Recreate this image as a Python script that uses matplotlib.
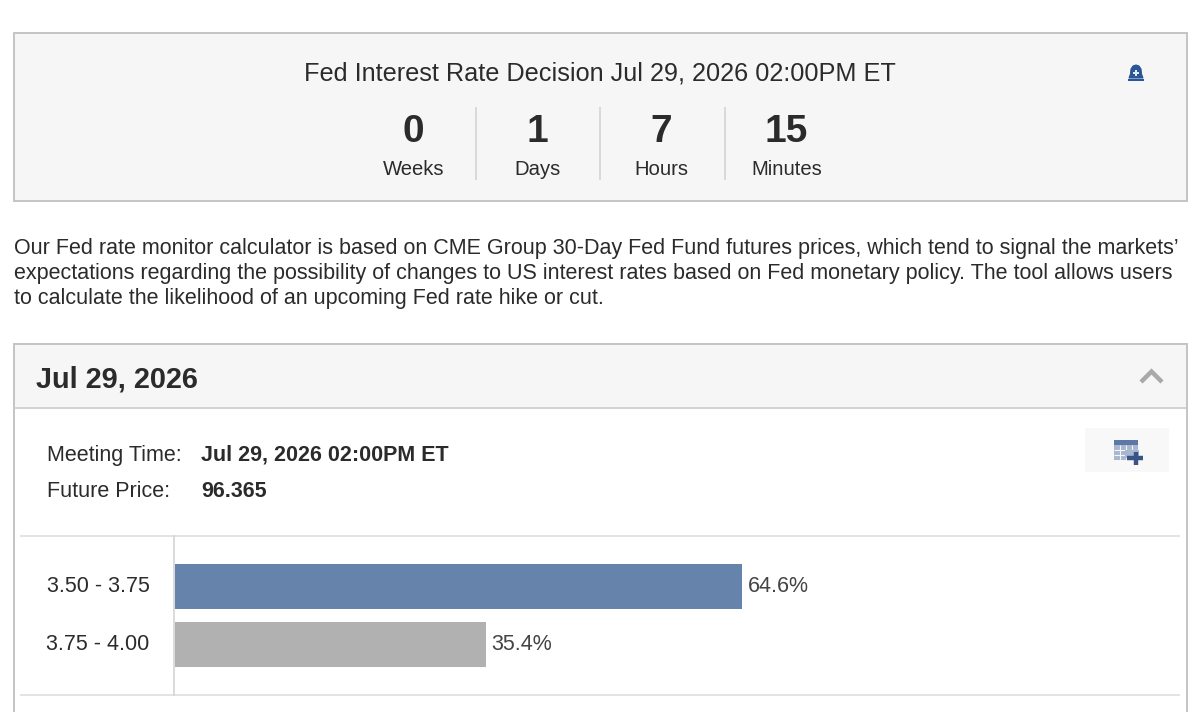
import matplotlib
matplotlib.use("Agg")
import matplotlib.pyplot as plt
from matplotlib.patches import Rectangle, Polygon
from matplotlib.transforms import ScaledTranslation

plt.rcParams["font.family"] = ["Liberation Sans", "DejaVu Sans"]

W, H = 1200, 712

headline = "Fed Interest Rate Decision Jul 29, 2026 02:00PM ET"
countdown_values = ["0", "1", "7", "15"]
countdown_units = ["Weeks", "Days", "Hours", "Minutes"]
intro_lines = [
    "Our Fed rate monitor calculator is based on CME Group 30-Day Fed Fund futures prices, which tend to signal the markets’",
    "expectations regarding the possibility of changes to US interest rates based on Fed monetary policy. The tool allows users",
    "to calculate the likelihood of an upcoming Fed rate hike or cut.",
]
panel_title = "Jul 29, 2026"
meeting_time = "Jul 29, 2026 02:00PM ET"
future_price = "96.365"
rate_ranges = ["3.50 - 3.75", "3.75 - 4.00"]
probabilities = [64.6, 35.4]
bar_colors = ["#6583ab", "#b1b1b1"]

TEXT = "#2b2b2b"
BORDER = "#c4c4c4"
RULE = "#dedede"
PANEL_BG = "#f6f6f6"

fig = plt.figure(figsize=(W / 100, H / 100), dpi=100, facecolor="white")

# Page layer addressed in pixels, origin at the top left
page = fig.add_axes([0, 0, 1, 1])
page.set_xlim(0, W)
page.set_ylim(H, 0)
page.axis("off")


def box(x0, y0, x1, y1, face="none", edge=BORDER, lw=1.4, z=1):
    page.add_patch(Rectangle((x0, y0), x1 - x0, y1 - y0, facecolor=face,
                             edgecolor=edge, linewidth=lw, zorder=z))


def rule(x0, y0, x1, y1, color=RULE, lw=1.2, z=2):
    page.plot([x0, x1], [y0, y1], color=color, lw=lw, zorder=z,
              solid_capstyle="butt")


def label(x, y, s, size=15.5, weight="normal", ha="left", color=TEXT):
    page.text(x, y, s, fontsize=size, fontweight=weight, ha=ha, va="baseline",
              color=color, zorder=5)


# Countdown card
box(13.5, 32.5, 1187, 201, face=PANEL_BG)
label(600, 80, headline, size=18.2, ha="center")
for cx, value, unit in zip([413.5, 537.5, 661.5, 786.5], countdown_values, countdown_units):
    label(cx, 142, value, size=28, weight="bold", ha="center")
    label(cx, 175, unit, size=14.6, ha="center")
for sx in [475.5, 600, 724.5]:
    rule(sx, 107, sx, 180, color="#d4d4d4")

# Alert bell
bell = "#2a5597"
page.add_patch(Polygon([(1129, 78), (1130.5, 74), (1131, 69), (1133, 66), (1136, 65),
                        (1139, 66), (1141, 69), (1141.5, 74), (1143, 78)],
                       closed=True, facecolor=bell, edgecolor=bell, lw=0.8, zorder=3))
page.add_patch(Rectangle((1128, 79), 16, 1.6, facecolor=bell, edgecolor="none", zorder=3))
page.add_patch(Rectangle((1133, 71.7), 6, 1.8, facecolor="#dfe8f4", edgecolor="none", zorder=4))
page.add_patch(Rectangle((1135.1, 69.6), 1.8, 6, facecolor="#dfe8f4", edgecolor="none", zorder=4))

# Introductory paragraph
for y, line in zip([254, 279, 304], intro_lines):
    label(14, y, line)

# Meeting panel
box(13.5, 343.5, 1187, 730, face="white")
page.add_patch(Rectangle((14.5, 344.5), 1171.5, 63.5, facecolor=PANEL_BG,
                         edgecolor="none", zorder=1.5))
rule(14, 408, 1186, 408, color="#cfcfcf", lw=1.3)
label(36, 387.5, panel_title, size=20.8, weight="bold")
page.plot([1141, 1151.5, 1162], [382, 371.5, 382], color="#a9a9a9", lw=3.2, zorder=3,
          solid_joinstyle="miter", solid_capstyle="butt")

# Table-export button
page.add_patch(Rectangle((1085, 428), 84, 44, facecolor="#f8f8f8", edgecolor="none", zorder=2))
page.add_patch(Rectangle((1113.5, 439.5), 24, 20.5, facecolor="#a7b7d0", edgecolor="none", zorder=3))
page.add_patch(Rectangle((1113.5, 439.5), 24, 5, facecolor="#5d78a6", edgecolor="none", zorder=3.1))
for gx in [1119.5, 1125.5, 1131.5]:
    rule(gx, 444.5, gx, 460, color="#f4f6fa", lw=0.8, z=3.2)
for gy in [449.5, 454.5]:
    rule(1113.5, gy, 1137.5, gy, color="#f4f6fa", lw=0.8, z=3.2)
page.add_patch(Rectangle((1125, 450), 14, 8, facecolor="#a7b7d0", edgecolor="none", zorder=3.3))
page.plot([1127, 1143], [458, 458], color="#3a5585", lw=3.2, zorder=4, solid_capstyle="butt")
page.plot([1135.5, 1135.5], [451.5, 465], color="#3a5585", lw=3.2, zorder=4, solid_capstyle="butt")

# Meeting details
label(47, 461, "Meeting Time:")
label(47, 497, "Future Price:")
label(201, 460.5, meeting_time, weight="bold")
label(201, 497, future_price, weight="bold")

# Rules above and below the probability chart
rule(20, 536, 1180, 536)
rule(20, 695, 1180, 695)

# Probability bars on their own axes; one percent spans 8.78 pixels
ax_left, ax_right, ax_top, ax_bottom = 174, 1179, 536, 695
ax = fig.add_axes([ax_left / W, 1 - ax_bottom / H,
                   (ax_right - ax_left) / W, (ax_bottom - ax_top) / H])
ax.patch.set_alpha(0)
ax.set_xlim(0, (ax_right - ax_left) / 8.78)
ax.set_ylim(ax_bottom, ax_top)
ax.barh([586.5, 644.5], probabilities, height=45, color=bar_colors, left=0.1)
for spine in ["top", "right", "bottom"]:
    ax.spines[spine].set_visible(False)
ax.spines["left"].set_color("#d4d4d4")
ax.spines["left"].set_linewidth(1.2)
ax.set_xticks([])
ax.set_yticks([586.5, 644.5], rate_ranges)
ax.tick_params(axis="y", length=0, pad=17.6, labelsize=15.5, labelcolor=TEXT)
lift = ScaledTranslation(0, 1.5 / 72, fig.dpi_scale_trans)
for tick_label in ax.get_yticklabels():
    tick_label.set_transform(tick_label.get_transform() + lift)
for y, p in zip([586.5, 644.5], probabilities):
    ax.text(p + 0.75, y + 0.3, f"{p}%", va="center", ha="left", fontsize=15.5, color="#444444")

fig.savefig("out.png", dpi=100, facecolor="white")
